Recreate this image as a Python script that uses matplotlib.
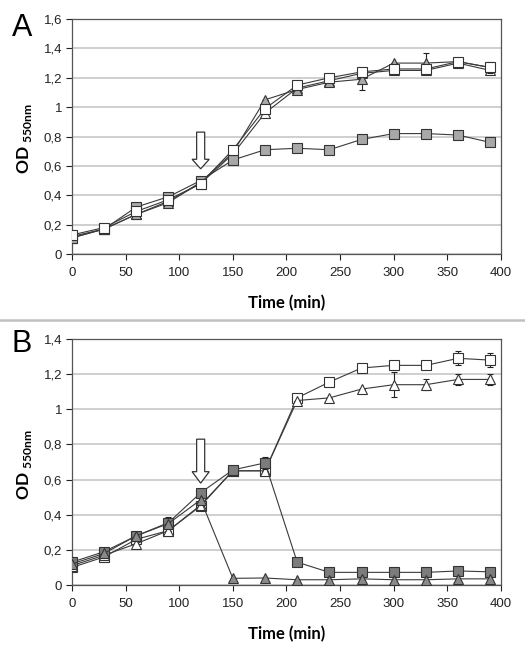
import numpy as np
import matplotlib
matplotlib.use("Agg")
import matplotlib.pyplot as plt
from matplotlib.patches import FancyArrow
from matplotlib.ticker import FuncFormatter

plt.rcParams['font.family'] = ['Liberation Sans', 'DejaVu Sans']
plt.rcParams['mathtext.fontset'] = 'custom'
plt.rcParams['mathtext.rm'] = 'Lato'
plt.rcParams['mathtext.bf'] = 'Lato:bold'

# --------------------
# Data (OD 550nm vs time)
# --------------------
time = [0, 30, 60, 90, 120, 150, 180, 210, 240, 270, 300, 330, 360, 390]

# panel A
a_white_sq = [0.13, 0.18, 0.29, 0.37, 0.48, 0.71, 0.99, 1.15, 1.20, 1.24, 1.26, 1.26, 1.31, 1.27]
a_gray_sq = [0.11, 0.17, 0.32, 0.39, 0.50, 0.64, 0.71, 0.72, 0.71, 0.78, 0.82, 0.82, 0.81, 0.76]
a_gray_tri = [0.11, 0.17, 0.27, 0.35, 0.49, 0.69, 1.05, 1.12, 1.17, 1.19, 1.30, 1.30, 1.31, 1.27]
a_white_tri = [0.12, 0.17, 0.27, 0.36, 0.48, 0.68, 0.96, 1.13, 1.18, 1.23, 1.25, 1.25, 1.30, 1.25]
a_err_gray_sq = [0, 0, 0, 0, 0, 0, 0, 0, 0, 0, 0.02, 0, 0, 0]
a_err_gray_tri = [0, 0, 0, 0, 0, 0, 0, 0, 0, 0.07, 0, 0.07, 0, 0.04]
a_err_white_sq = [0, 0, 0, 0, 0, 0, 0, 0, 0, 0, 0, 0, 0, 0.03]

# panel B
b_white_sq = [0.10, 0.16, 0.26, 0.31, 0.45, 0.65, 0.65, 1.065, 1.155, 1.235, 1.25, 1.25, 1.29, 1.28]
b_white_tri = [0.11, 0.17, 0.235, 0.31, 0.455, 0.65, 0.65, 1.05, 1.065, 1.115, 1.14, 1.14, 1.17, 1.17]
b_gray_sq = [0.13, 0.19, 0.28, 0.355, 0.525, 0.655, 0.695, 0.13, 0.072, 0.072, 0.072, 0.072, 0.08, 0.075]
b_gray_tri = [0.12, 0.18, 0.28, 0.35, 0.485, 0.038, 0.04, 0.03, 0.03, 0.035, 0.03, 0.03, 0.035, 0.035]
b_err_white_sq = [0, 0, 0, 0, 0, 0, 0, 0, 0, 0, 0, 0, 0.04, 0.04]
b_err_white_tri = [0, 0, 0, 0, 0, 0, 0, 0, 0, 0, 0.07, 0.03, 0.03, 0.03]
b_err_gray_sq = [0, 0, 0, 0.03, 0, 0, 0.035, 0, 0, 0, 0, 0, 0, 0]

line_c = '#3a3a3a'


def series(ax, y, marker, face, err=None, z=3):
    if err is not None and any(err):
        ax.errorbar(time, y, yerr=err, fmt='none', ecolor='#222222',
                    elinewidth=0.8, capsize=2, capthick=0.8, zorder=z - 0.5)
    ax.plot(time, y, color=line_c, lw=0.8, marker=marker, ms=7 if marker == 's' else 7,
            mfc=face, mec='#333333', mew=0.8, zorder=z)


def style(ax, ymax, ticks):
    ax.set_xlim(0, 400)
    ax.set_ylim(0, ymax)
    ax.set_xticks(np.arange(0, 401, 50))
    ax.set_yticks(ticks)
    ax.yaxis.set_major_formatter(FuncFormatter(lambda v, p: ('%g' % round(v, 1)).replace('.', ',')))
    ax.tick_params(labelsize=9.5, colors='#222222', length=4, width=0.8, pad=3)
    ax.tick_params(axis='x', pad=5)
    ax.grid(axis='y', color='#cccccc', lw=1.3)
    ax.set_axisbelow(True)
    for s in ax.spines.values():
        s.set_color('#555555')
        s.set_linewidth(0.9)
    ax.set_xlabel('Time (min)', fontsize=12, fontweight='bold', family='Lato', labelpad=12)
    ax.text(-0.11, 0.49, r'$\mathbf{OD}_{\mathbf{\ 550nm}}$', transform=ax.transAxes,
            rotation=90, ha='center', va='center', fontsize=12.5)


def arrow(ax):
    ax.add_patch(FancyArrow(120, 0.83, 0, -0.25, width=7.5, head_width=16, head_length=0.065,
                            length_includes_head=True, fc='white', ec='#333333', lw=0.9, zorder=5))


fig = plt.figure(figsize=(5.25, 6.45), dpi=100)

axA = fig.add_axes([0.1371, 0.6062, 0.8171, 0.3643])
style(axA, 1.6, np.arange(0, 1.61, 0.2))
series(axA, a_white_tri, '^', 'white', z=3)
series(axA, a_gray_tri, '^', '#a8a8a8', a_err_gray_tri, z=4)
series(axA, a_gray_sq, 's', '#a8a8a8', a_err_gray_sq, z=5)
series(axA, a_white_sq, 's', 'white', a_err_white_sq, z=6)
arrow(axA)

axB = fig.add_axes([0.1371, 0.0930, 0.8171, 0.3814])
style(axB, 1.4, np.arange(0, 1.41, 0.2))
series(axB, b_white_sq, 's', 'white', b_err_white_sq, z=3)
series(axB, b_white_tri, '^', 'white', b_err_white_tri, z=4)
series(axB, b_gray_sq, 's', '#7c7c7c', b_err_gray_sq, z=5)
series(axB, b_gray_tri, '^', '#8a8a8a', z=6)
arrow(axB)

fig.text(12 / 525, 1 - 36 / 645, 'A', fontsize=22, ha='left', va='baseline')
fig.text(12 / 525, 1 - 352 / 645, 'B', fontsize=22, ha='left', va='baseline')
fig.add_artist(plt.Line2D([0, 1], [1 - 320 / 645] * 2, color='#c0c0c0', lw=1.8))

fig.savefig('out.png', dpi=100)
